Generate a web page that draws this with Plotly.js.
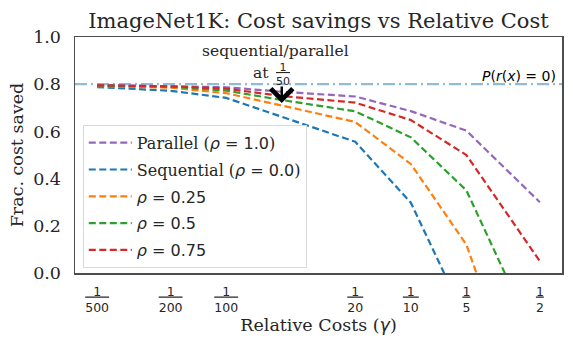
<!DOCTYPE html>
<html>
<head>
<meta charset="utf-8">
<script src="https://cdn.plot.ly/plotly-3.0.1.min.js"></script>
<style>html,body{margin:0;padding:0;background:#fff;}#chart{width:573px;height:349px;}</style>
</head>
<body>
<div id="chart"></div>
<script>
// Relative costs (gamma)
const costs = [1/500, 1/200, 1/100, 1/50, 1/20, 1/10, 1/5, 1/2];
// Fraction of cost saved, per policy
const parallel   = [0.797, 0.793, 0.787, 0.768, 0.748, 0.686, 0.603, 0.30];
const sequential = [0.788, 0.772, 0.742, 0.662, 0.556, 0.298, -0.20, -1.00];
const rho025     = [0.792, 0.785, 0.762, 0.710, 0.640, 0.462, 0.120, -0.76];
const rho050     = [0.794, 0.789, 0.773, 0.733, 0.685, 0.575, 0.350, -0.32];
const rho075     = [0.795, 0.791, 0.781, 0.750, 0.722, 0.648, 0.500, 0.05];
const perfectSaving = 0.8;   // P(r(x)=0)
const markCost = 1/50;       // sequential/parallel marker
const markValue = 0.72;

const tickDenoms = [500, 200, 100, 20, 10, 5, 2];

const SANS = "DejaVu Sans";
const SERIF = "DejaVu Serif";
function sans(s){ return '<span style="font-family:' + SANS + '">' + s + '</span>'; }
function frac(den){
  const d = String(den);
  const pad = '\u00a0'.repeat(d.length - 1);
  return '<u>' + pad + '1' + pad + '</u><br>' + d;
}

const series = [
  {name: 'Parallel (' + sans('<i>ρ</i> = 1.0') + ')', y: parallel, color: '#9467bd'},
  {name: 'Sequential (' + sans('<i>ρ</i> = 0.0') + ')', y: sequential, color: '#1f77b4'},
  {name: sans('<i>ρ</i> = 0.25'), y: rho025, color: '#ff7f0e'},
  {name: sans('<i>ρ</i> = 0.5'), y: rho050, color: '#2ca02c'},
  {name: sans('<i>ρ</i> = 0.75'), y: rho075, color: '#d62728'}
];

const traces = series.map((s, i) => ({
  type: 'scatter', mode: 'lines', x: costs, y: s.y, name: s.name,
  legendgroup: 'g' + i,
  line: {color: s.color, width: 2.2, dash: '7px,3.5px'}
}));

const lx0 = Math.log10(costs[0]), lx1 = Math.log10(costs[costs.length - 1]);
const pad = 0.05 * (lx1 - lx0);

const layout = {
  width: 573, height: 349,
  margin: {l: 75, r: 11, t: 37, b: 76},
  paper_bgcolor: '#fff', plot_bgcolor: '#fff',
  font: {family: SERIF, color: '#262626', size: 15},
  showlegend: true,
  title: {text: 'ImageNet1K: Cost savings vs Relative Cost', font: {family: SERIF, size: 21, color: '#262626'},
          x: 0.5, xref: 'paper', y: 1 - 21/349, yref: 'container', yanchor: 'middle'},
  xaxis: {
    type: 'log', range: [lx0 - pad, lx1 + pad],
    tickvals: tickDenoms.map(d => 1/d), ticktext: tickDenoms.map(frac),
    tickfont: {family: SANS, size: 12.5, color: '#262626'},
    ticks: '', ticklabelstandoff: 6, showgrid: false, zeroline: false,
    showline: true, mirror: true, linecolor: '#4d4d4d', linewidth: 1.5,
    title: {text: 'Relative Costs (' + sans('<i>γ</i>') + ')', font: {family: SERIF, size: 17.5, color: '#262626'}, standoff: 5}
  },
  yaxis: {
    range: [0, 1.0], tickvals: [0, 0.2, 0.4, 0.6, 0.8, 1.0], ticktext: ['0.0','0.2','0.4','0.6','0.8','1.0'],
    tickfont: {family: SERIF, size: 17.5, color: '#262626'},
    ticks: '', ticklabelstandoff: 9, showgrid: false, zeroline: false,
    showline: true, mirror: true, linecolor: '#4d4d4d', linewidth: 1.5,
    title: {text: 'Frac. cost saved', font: {family: SERIF, size: 17.5, color: '#262626'}, standoff: 5}
  },
  legend: {
    x: 0.016, y: 0.628, xanchor: 'left', yanchor: 'top',
    bgcolor: '#fff', bordercolor: '#d9d9d9', borderwidth: 1,
    font: {family: SERIF, size: 16, color: '#262626'},
    itemwidth: 43, tracegroupgap: 3
  },
  shapes: [{
    type: 'line', xref: 'paper', x0: 0, x1: 1, yref: 'y', y0: perfectSaving, y1: perfectSaving,
    line: {color: 'rgba(31,119,180,0.5)', width: 2.2, dash: '12px,4px,2px,4px'}, layer: 'below'
  }],
  annotations: [
    {xref: 'paper', x: 0.992, yref: 'y', y: perfectSaving, xanchor: 'right', yanchor: 'bottom', yshift: -2,
     text: sans('<i>P</i>(<i>r</i>(<i>x</i>) = 0)'), showarrow: false, font: {family: SANS, size: 14, color: '#000'}},
    {xref: 'x', x: Math.log10(markCost), yref: 'y', y: markValue, text: '', showarrow: true,
     ax: 0, ay: -18, arrowhead: 4, arrowsize: 1.7, arrowwidth: 2.5, arrowcolor: '#000', standoff: 0},
    {xref: 'x', x: Math.log10(markCost), yref: 'paper', y: 1, yshift: -14, xshift: -6, xanchor: 'center', yanchor: 'middle',
     text: 'sequential/parallel', showarrow: false, font: {family: SERIF, size: 15.5, color: '#262626'}},
    {xref: 'x', x: Math.log10(markCost), yref: 'paper', y: 1, yshift: -36, xshift: -21, xanchor: 'center', yanchor: 'middle',
     text: 'at', showarrow: false, font: {family: SERIF, size: 15.5, color: '#262626'}},
    {xref: 'x', x: Math.log10(markCost), yref: 'paper', y: 1, yshift: -37, xshift: 1, xanchor: 'center', yanchor: 'middle',
     text: frac(50), showarrow: false, font: {family: SANS, size: 11, color: '#262626'}}
  ]
};

Plotly.newPlot('chart', traces, layout, {displayModeBar: false, staticPlot: true});
</script>
</body>
</html>
